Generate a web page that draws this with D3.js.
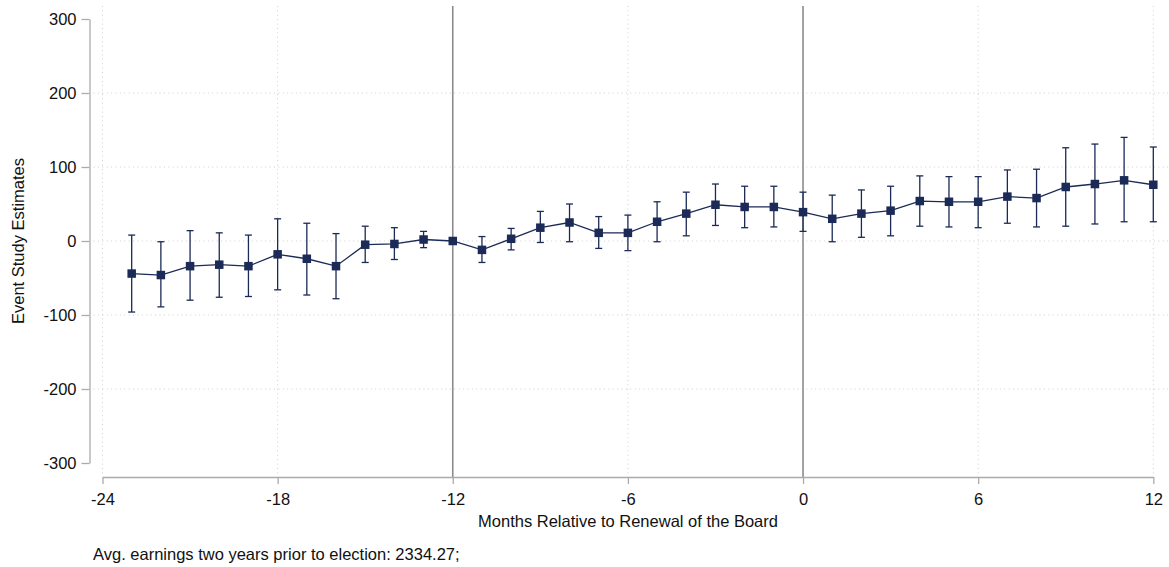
<!DOCTYPE html>
<html>
<head>
<meta charset="utf-8">
<script src="https://cdn.jsdelivr.net/npm/d3@7"></script>
<style>
  html, body { margin: 0; padding: 0; background: #fff; }
  svg { display: block; font-family: "Liberation Sans", Arial, sans-serif; }
</style>
</head>
<body>
<svg id="chart" width="1169" height="567"></svg>
<script>
// Event-study coefficients by month relative to the board renewal
const months = [-23,-22,-21,-20,-19,-18,-17,-16,-15,-14,-13,-12,-11,-10,-9,-8,-7,-6,-5,-4,-3,-2,-1,0,1,2,3,4,5,6,7,8,9,10,11,12];
const estimates = [-44,-46,-34,-32,-34,-18,-24,-34,-5,-4,2,0,-12,3,18,25,11,11,26,37,49,46,46,39,30,37,41,54,53,53,60,58,73,77,82,76];
const ciUpper = [8,-1,14,11,8,30,24,10,20,18,13,null,6,17,40,50,33,35,53,66,77,74,74,66,62,69,74,88,87,87,96,97,126,131,140,127];
const ciLower = [-96,-89,-80,-76,-75,-66,-73,-78,-29,-25,-9,null,-29,-12,-2,-1,-10,-13,-1,7,21,18,19,13,-1,5,7,20,19,18,24,19,20,23,26,26];

const xTicks = [-24,-18,-12,-6,0,6,12];
const yTicks = [-300,-200,-100,0,100,200,300];
const yGrid = [-200,-100,0,100,200];
const eventLines = [-12,0];

const xTitle = "Months Relative to Renewal of the Board";
const yTitle = "Event Study Estimates";
const note = "Avg. earnings two years prior to election: 2334.27;";

const navy = "#1b2a56";
const svg = d3.select("#chart");

const x = d3.scaleLinear().domain([-24, 12]).range([102.5, 1153.3]);
const y = d3.scaleLinear().domain([-300, 300]).range([463, 19]);

const plotLeft = 89.5, plotRight = 1169, plotTop = 6, plotBottom = 477;

// dotted grid
const grid = svg.append("g");
grid.selectAll("line.hg").data(yGrid).join("line")
  .attr("x1", plotLeft + 4).attr("x2", plotRight)
  .attr("y1", d => y(d)).attr("y2", d => y(d))
  .attr("stroke", "#cfcfcf").attr("stroke-width", 1)
  .attr("stroke-dasharray", "1,3.4");
grid.selectAll("line.vg").data(xTicks.filter(t => !eventLines.includes(t))).join("line")
  .attr("x1", d => x(d)).attr("x2", d => x(d))
  .attr("y1", plotTop).attr("y2", plotBottom)
  .attr("stroke", "#cfcfcf").attr("stroke-width", 1)
  .attr("stroke-dasharray", "1,3.4");

// reference lines at the election and the renewal
svg.append("g").selectAll("line").data(eventLines).join("line")
  .attr("x1", d => x(d)).attr("x2", d => x(d))
  .attr("y1", plotTop).attr("y2", plotBottom)
  .attr("stroke", "#8c8c8c").attr("stroke-width", 1.6);

// axes (plain hyphen for negative labels)
const fmt = d => String(d);
const axisColor = "#ababab";
const yAxis = svg.append("g")
  .attr("transform", `translate(${plotLeft},0)`)
  .call(d3.axisLeft(y).tickValues(yTicks).tickFormat(fmt).tickSize(8).tickSizeOuter(0).tickPadding(5));
const xAxis = svg.append("g")
  .attr("transform", `translate(0,${plotBottom})`)
  .call(d3.axisBottom(x).tickValues(xTicks).tickFormat(fmt).tickSize(7).tickSizeOuter(0).tickPadding(9));
[yAxis, xAxis].forEach(a => {
  a.select(".domain").attr("stroke", axisColor).attr("stroke-width", 1.3);
  a.selectAll(".tick line").attr("stroke", axisColor).attr("stroke-width", 1.3);
  a.selectAll(".tick text").attr("fill", "#111").attr("font-size", 16.5)
    .attr("font-family", "Liberation Sans, Arial, sans-serif");
});

// confidence intervals
const rows = months.map((m, i) => ({ m, est: estimates[i], hi: ciUpper[i], lo: ciLower[i] }));
const withCI = rows.filter(d => d.hi !== null);
const ci = svg.append("g").attr("stroke", navy).attr("stroke-width", 1.3).attr("fill", "none");
ci.selectAll("line.bar").data(withCI).join("line")
  .attr("x1", d => x(d.m)).attr("x2", d => x(d.m))
  .attr("y1", d => y(d.hi)).attr("y2", d => y(d.lo));
ci.selectAll("line.capHi").data(withCI).join("line")
  .attr("x1", d => x(d.m) - 3.5).attr("x2", d => x(d.m) + 3.5)
  .attr("y1", d => y(d.hi)).attr("y2", d => y(d.hi));
ci.selectAll("line.capLo").data(withCI).join("line")
  .attr("x1", d => x(d.m) - 3.5).attr("x2", d => x(d.m) + 3.5)
  .attr("y1", d => y(d.lo)).attr("y2", d => y(d.lo));

// point estimates
svg.append("path").datum(rows)
  .attr("fill", "none").attr("stroke", navy).attr("stroke-width", 1.3)
  .attr("d", d3.line().x(d => x(d.m)).y(d => y(d.est)));
const s = 8.5;
svg.append("g").selectAll("rect").data(rows).join("rect")
  .attr("x", d => x(d.m) - s / 2).attr("y", d => y(d.est) - s / 2)
  .attr("width", s).attr("height", s).attr("fill", navy);

// titles and note
svg.append("text").attr("x", 628).attr("y", 527).attr("text-anchor", "middle")
  .attr("font-size", 16.5).attr("fill", "#111").text(xTitle);
svg.append("text").attr("transform", "translate(24,241) rotate(-90)").attr("text-anchor", "middle")
  .attr("font-size", 16.5).attr("fill", "#111").text(yTitle);
svg.append("text").attr("x", 93).attr("y", 560)
  .attr("font-size", 16.5).attr("fill", "#111").text(note);
</script>
</body>
</html>
